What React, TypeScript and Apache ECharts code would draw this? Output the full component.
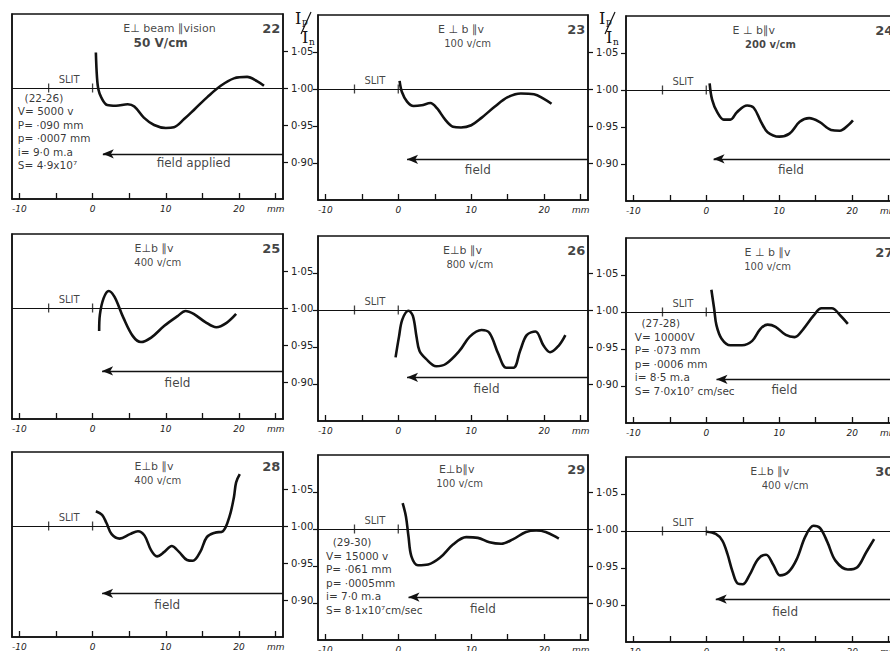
import React, { useEffect, useRef } from "react";
import * as echarts from "echarts";

// ---------- data ----------
const panelIds = ["22", "23", "24", "25", "26", "27", "28", "29", "30"];
const titleLine1 = ["E⊥ beam ∥vision", "E ⊥ b ∥v", "E ⊥ b∥v", "E⊥b ∥v", "E⊥b ∥v", "E ⊥ b ∥v", "E⊥b ∥v", "E⊥b∥v", "E⊥b ∥v"];
const titleLine2 = ["50 V/cm", "100 v/cm", "200 v/cm", "400 v/cm", "800 v/cm", "100 v/cm", "400 v/cm", "100 v/cm", "400 v/cm"];
const titleX1 = [10.5, 8.6, 6.5, 8.4, 8.8, 8.4, 8.4, 8.0, 8.7];
const titleX2 = [9.3, 9.5, 8.8, 8.9, 9.8, 8.4, 8.9, 8.4, 10.8];
const titleY1 = 1.081;
const titleY2 = 1.061;
const fieldText = ["field applied", "field", "field", "field", "field", "field", "field", "field", "field"];
const fieldTextX = [13.8, 10.9, 11.6, 11.6, 12.1, 10.7, 10.2, 11.6, 10.8];
const fieldTextY = [0.899, 0.891, 0.892, 0.899, 0.893, 0.895, 0.893, 0.892, 0.891];
const arrowY = [0.911, 0.905, 0.907, 0.915, 0.909, 0.909, 0.909, 0.908, 0.908];
const arrowStart = [1.4, 1.2, 1.0, 1.3, 1.2, 1.4, 1.3, 1.4, 1.3];
const arrowEnd = 26;
const slitTicks = [-6, 0];
const slitLabelX = -3.2;
const baseLine = 1.0;
const yTickValues = [0.9, 0.95, 1.0, 1.05];
const xTickValues = [-10, -5, 0, 5, 10, 15, 20, 25];
const xLabelValues = [-10, 0, 10, 20, 25];
const numberX = 24.4;

const info22 = ["  (22-26)", "V= 5000 v", "P= ·090 mm", "p= ·0007 mm", "i= 9·0 m.a", "S= 4·9x10⁷"];
const info27 = ["  (27-28)", "V= 10000V", "P= ·073 mm", "p= ·0006 mm", "i= 8·5 m.a", "S= 7·0x10⁷ cm/sec"];
const info29 = ["  (29-30)", "V= 15000 v", "P= ·061 mm", "p= ·0005mm", "i= 7·0 m.a", "S= 8·1x10⁷cm/sec"];
const infoPanels = [0, 5, 7];
const infoTexts = [info22, info27, info29];
const infoX = [-10.2, -9.8, -9.9];
const infoTop = [0.996, 0.994, 0.991];

const curve22 = [[0.45, 1.048], [0.6, 1.015], [0.8, 0.998], [1.2, 0.987], [2.0, 0.977], [3.2, 0.976], [4.8, 0.978], [5.7, 0.975], [7.0, 0.96], [8.4, 0.95], [10, 0.946], [11.1, 0.947], [12.5, 0.958], [13.9, 0.971], [15.7, 0.988], [17.5, 1.003], [19.3, 1.013], [21.1, 1.015], [22.5, 1.009], [23.4, 1.003]];
const curve23 = [[0.18, 1.011], [0.5, 0.996], [1.2, 0.983], [2.1, 0.977], [3.2, 0.978], [4.4, 0.981], [5.3, 0.974], [6.4, 0.959], [7.5, 0.949], [8.6, 0.948], [10, 0.951], [11.4, 0.961], [13.2, 0.976], [15, 0.989], [16.8, 0.994], [18.6, 0.993], [19.9, 0.987], [21, 0.98]];
const curve24 = [[0.46, 1.009], [0.8, 0.987], [1.5, 0.97], [2.4, 0.96], [3.3, 0.96], [4.2, 0.97], [5.6, 0.979], [6.5, 0.976], [7.5, 0.957], [8.4, 0.943], [10, 0.937], [11.4, 0.941], [12.8, 0.957], [14.1, 0.962], [15.5, 0.957], [17.1, 0.946], [18.3, 0.945], [19.4, 0.952], [20.1, 0.959]];
const curve25 = [[0.9, 0.969], [1.0, 0.991], [1.5, 1.013], [2.2, 1.023], [3.0, 1.015], [4.2, 0.987], [5.5, 0.962], [6.6, 0.954], [8.0, 0.96], [9.8, 0.976], [11.6, 0.989], [12.7, 0.996], [13.8, 0.992], [15.4, 0.981], [16.9, 0.974], [18.3, 0.98], [19.6, 0.992]];
const curve26 = [[-0.37, 0.936], [0.1, 0.964], [0.55, 0.987], [1.4, 0.999], [2.0, 0.992], [2.5, 0.964], [2.9, 0.945], [3.8, 0.934], [5.2, 0.924], [6.5, 0.927], [8.4, 0.945], [9.8, 0.964], [11.4, 0.973], [12.5, 0.969], [13.7, 0.941], [14.8, 0.922], [15.8, 0.922], [16.7, 0.945], [17.6, 0.966], [18.8, 0.971], [19.9, 0.952], [20.8, 0.943], [22.0, 0.952], [22.9, 0.966]];
const curve27 = [[0.7, 1.03], [1.07, 1.005], [1.4, 0.982], [2.1, 0.964], [3.3, 0.955], [4.9, 0.955], [6.3, 0.961], [7.4, 0.977], [8.4, 0.983], [9.5, 0.98], [10.9, 0.969], [12.1, 0.966], [13.3, 0.977], [14.7, 0.995], [15.8, 1.005], [17.2, 1.005], [18.4, 0.995], [19.4, 0.984]];
const curve28 = [[0.45, 1.02], [1.3, 1.015], [1.9, 1.004], [2.6, 0.989], [3.7, 0.983], [5.1, 0.989], [6.2, 0.993], [7.1, 0.987], [8.0, 0.967], [8.8, 0.959], [9.8, 0.965], [10.8, 0.973], [11.8, 0.965], [12.9, 0.954], [13.7, 0.953], [14.7, 0.965], [15.6, 0.985], [16.7, 0.991], [17.8, 0.993], [18.7, 1.013], [19.3, 1.039], [19.6, 1.059], [20.1, 1.07]];
const curve29 = [[0.6, 1.035], [1.05, 1.017], [1.4, 0.99], [1.8, 0.963], [2.7, 0.951], [4.1, 0.952], [5.7, 0.961], [7.5, 0.979], [9.3, 0.989], [10.9, 0.988], [12.5, 0.982], [14.1, 0.98], [15.7, 0.986], [17.5, 0.996], [18.9, 0.998], [20.2, 0.996], [22.0, 0.987]];
const curve30 = [[0, 0.999], [1.3, 0.996], [2.2, 0.987], [2.9, 0.969], [3.6, 0.945], [4.3, 0.929], [5.0, 0.928], [5.9, 0.94], [7.1, 0.962], [8.2, 0.968], [9.2, 0.954], [10.1, 0.94], [11.3, 0.945], [12.4, 0.962], [13.6, 0.993], [14.7, 1.007], [15.6, 1.004], [16.6, 0.985], [17.7, 0.96], [19.4, 0.948], [20.7, 0.951], [21.9, 0.971], [23.0, 0.989]];
const curves = [curve22, curve23, curve24, curve25, curve26, curve27, curve28, curve29, curve30];

// ---------- layout ----------
const colLeft = [12, 318, 626];
const colWidth = [271, 270, 270];
const panelTop = [14, 15, 16, 234, 236, 238, 452, 455, 457];
const panelHeight = 185;
const FONT = "DejaVu Sans";
const INK = "#111";

function textItem(x: number, y: number, text: string, style: any) {
  return {
    value: [x, y],
    symbolSize: 1,
    itemStyle: { color: "transparent" },
    label: {
      show: true,
      position: "inside",
      formatter: () => text,
      color: INK,
      fontFamily: FONT,
      ...style,
    },
  };
}

function buildOption() {
  const grid: any[] = [];
  const xAxis: any[] = [];
  const yAxis: any[] = [];
  const series: any[] = [];

  panelIds.forEach((id, i) => {
    const col = i % 3;
    grid.push({
      left: colLeft[col],
      top: panelTop[i],
      width: colWidth[col],
      height: panelHeight,
      show: true,
      borderColor: INK,
      borderWidth: 1.5,
      backgroundColor: "transparent",
      containLabel: false,
      outerBoundsMode: "none",
    });
    xAxis.push({
      type: "value",
      gridIndex: i,
      min: -11,
      max: 26,
      axisLine: { show: true, onZero: false, lineStyle: { color: INK, width: 1.5 } },
      axisTick: { show: true, inside: true, length: 6, customValues: xTickValues, lineStyle: { color: INK, width: 1.3 } },
      axisLabel: {
        customValues: xLabelValues,
        formatter: (v: number) => (v === 25 ? "mm" : String(v)),
        fontSize: 9,
        fontStyle: "italic",
        fontFamily: FONT,
        color: "#222",
        margin: 5,
      },
      splitLine: { show: false },
    });
    yAxis.push({
      type: "value",
      gridIndex: i,
      position: "left",
      min: 0.85,
      max: 1.1,
      axisLine: { show: true, onZero: false, lineStyle: { color: INK, width: 1.5 } },
      axisTick: { show: col > 0, inside: false, length: 5, customValues: yTickValues, lineStyle: { color: INK, width: 1.2 } },
      axisLabel: { show: false },
      splitLine: { show: false },
    });
    yAxis.push({
      type: "value",
      gridIndex: i,
      position: "right",
      min: 0.85,
      max: 1.1,
      axisLine: { show: true, onZero: false, lineStyle: { color: INK, width: 1.5 } },
      axisTick: { show: true, inside: false, length: 5, customValues: yTickValues, lineStyle: { color: INK, width: 1.2 } },
      axisLabel: {
        show: col < 2,
        customValues: yTickValues,
        formatter: (v: number) => v.toFixed(2).replace(".", "·"),
        fontSize: 10,
        fontFamily: FONT,
        color: "#222",
        margin: 8,
      },
      splitLine: { show: false },
    });

    const yIdx = 2 * i + 1;
    series.push({
      type: "line",
      xAxisIndex: i,
      yAxisIndex: yIdx,
      data: curves[i],
      smooth: 0.35,
      symbol: "none",
      showSymbol: false,
      silent: true,
      lineStyle: { color: INK, width: 2.6 },
      markLine: {
        silent: true,
        symbol: ["none", "none"],
        label: { show: false },
        lineStyle: { color: INK, width: 1.1, type: "solid" },
        data: [
          { yAxis: baseLine },
          [
            { coord: [arrowEnd, arrowY[i]], symbol: "none" },
            { coord: [arrowStart[i], arrowY[i]], symbol: "arrow", symbolSize: [7, 11], lineStyle: { width: 1.4 } },
          ],
        ],
      },
    });
    series.push({
      type: "scatter",
      xAxisIndex: i,
      yAxisIndex: yIdx,
      silent: true,
      symbol: "rect",
      symbolSize: [1.3, 9],
      itemStyle: { color: INK },
      data: slitTicks.map((x) => [x, baseLine]),
    });

    const texts: any[] = [
      textItem(titleX1[i], titleY1, titleLine1[i], { fontSize: 11 }),
      textItem(titleX2[i], titleY2, titleLine2[i], { fontSize: i === 0 ? 12 : 10, fontWeight: i === 0 || i === 2 ? "bold" : "normal" }),
      textItem(numberX, titleY1, id, { fontSize: 13, fontWeight: "bold" }),
      textItem(slitLabelX, baseLine + 0.011, "SLIT", { fontSize: 10 }),
      textItem(fieldTextX[i], fieldTextY[i], fieldText[i], { fontSize: 12 }),
    ];
    const k = infoPanels.indexOf(i);
    if (k >= 0) {
      texts.push(
        textItem(infoX[k], infoTop[k], infoTexts[k].join("\n"), {
          fontSize: 10.5,
          align: "left",
          verticalAlign: "top",
          lineHeight: 13.5,
          color: "#000",
        })
      );
    }
    series.push({
      type: "scatter",
      xAxisIndex: i,
      yAxisIndex: yIdx,
      silent: true,
      data: texts,
    });
  });

  const serif = "DejaVu Serif";
  const ipin = (x0: number) => [
    { type: "text", x: x0, y: 10, style: { text: "I", fontSize: 16, fontFamily: serif, fill: INK, align: "left", verticalAlign: "top" } },
    { type: "text", x: x0 + 7, y: 17, style: { text: "p", fontSize: 9, fontFamily: serif, fill: INK, align: "left", verticalAlign: "top" } },
    { type: "line", shape: { x1: x0 + 16, y1: 12, x2: x0 + 6, y2: 34 }, style: { stroke: INK, lineWidth: 1.2 } },
    { type: "text", x: x0 + 7, y: 29, style: { text: "I", fontSize: 16, fontFamily: serif, fill: INK, align: "left", verticalAlign: "top" } },
    { type: "text", x: x0 + 14, y: 37, style: { text: "n", fontSize: 9, fontFamily: serif, fill: INK, align: "left", verticalAlign: "top" } },
  ];

  return {
    animation: false,
    backgroundColor: "#fff",
    grid,
    xAxis,
    yAxis,
    series,
    graphic: [...ipin(295), ...ipin(599)],
  };
}

export default function App() {
  const ref = useRef<HTMLDivElement>(null);
  useEffect(() => {
    if (!ref.current) return;
    const chart = echarts.init(ref.current, undefined, { renderer: "svg" });
    chart.setOption(buildOption() as any);
    return () => chart.dispose();
  }, []);
  return (
    <div style={{ position: "fixed", left: 0, top: 0, width: 890, height: 651, overflow: "hidden", background: "#fff" }}>
      <div ref={ref} style={{ width: 900, height: 651 }} />
    </div>
  );
}
